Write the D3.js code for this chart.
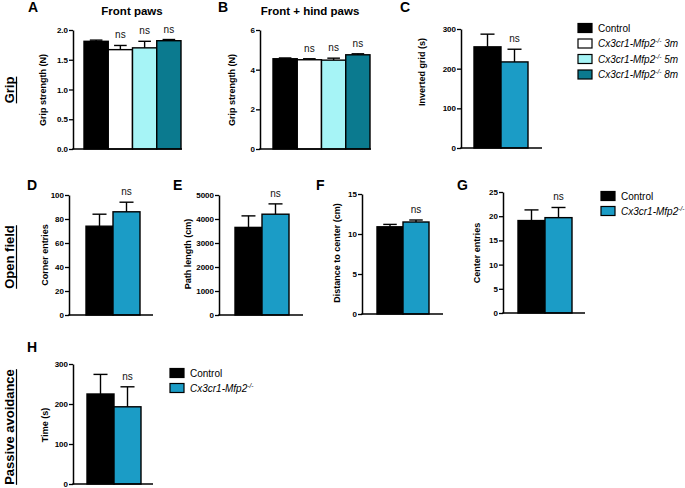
<!DOCTYPE html>
<html><head><meta charset="utf-8">
<script src="https://cdn.jsdelivr.net/npm/d3@7"></script>
<style>
html,body{margin:0;padding:0;background:#fff;}
svg{display:block;font-family:"Liberation Sans",Arial,sans-serif;}
</style></head>
<body><svg id="c" width="685" height="488"></svg>
<script>
// ---------- data ----------
const gripGroups = ["Control", "Cx3cr1-Mfp2 3m", "Cx3cr1-Mfp2 5m", "Cx3cr1-Mfp2 8m"];
const gripLegendSuffix = [null, " 3m", " 5m", " 8m"];
const twoGroups = ["Control", "Cx3cr1-Mfp2"];

const frontPawsMean = [1.81, 1.67, 1.70, 1.82];
const frontPawsErr  = [0.02, 0.07, 0.11, 0.02];
const frontPawsSig  = ["", "ns", "ns", "ns"];
const frontPawsTicks = [0, 0.5, 1.0, 1.5, 2.0];

const frontHindMean = [4.55, 4.50, 4.48, 4.75];
const frontHindErr  = [0.04, 0.05, 0.10, 0.05];
const frontHindSig  = ["", "ns", "ns", "ns"];
const frontHindTicks = [0, 2, 4, 6];

const invertedGridMean = [255, 217];
const invertedGridErr  = [32, 32];
const invertedGridTicks = [0, 100, 200, 300];

const cornerMean = [74, 86];
const cornerErr  = [10, 8];
const cornerTicks = [0, 20, 40, 60, 80, 100];

const pathMean = [3650, 4200];
const pathErr  = [480, 430];
const pathTicks = [0, 1000, 2000, 3000, 4000, 5000];

const distMean = [10.9, 11.5];
const distErr  = [0.3, 0.25];
const distTicks = [0, 5, 10, 15];

const centerMean = [19.1, 19.7];
const centerErr  = [2.2, 2.1];
const centerTicks = [0, 5, 10, 15, 20, 25];

const passiveMean = [225, 193];
const passiveErr  = [49, 50];
const passiveTicks = [0, 100, 200, 300];

const twoSig = ["", "ns"];

// ---------- styles ----------
const gripColors = ["#000000", "#ffffff", "#a6f4f6", "#0b7a8f"];
const twoColors = ["#000000", "#1b9cc6"];

const svg = d3.select("#c");

function panel(o) {
  const g = svg.append("g");
  const y = d3.scaleLinear().domain([0, o.max]).range([o.yBot, o.yTop]);
  const x = d3.scaleBand().domain(o.cats).range([o.x0, o.x1]).padding(0);

  // bars
  g.selectAll("rect.bar").data(o.mean).join("rect")
    .attr("x", (d, i) => x(o.cats[i]))
    .attr("y", d => y(d))
    .attr("width", x.bandwidth())
    .attr("height", d => y(0) - y(d))
    .attr("fill", (d, i) => o.colors[i])
    .attr("stroke", "#000").attr("stroke-width", 1.4);

  // error bars (upper only)
  o.mean.forEach((m, i) => {
    const cx = x(o.cats[i]) + x.bandwidth() / 2;
    const cw = x.bandwidth() * 0.26;
    g.append("line").attr("x1", cx).attr("x2", cx).attr("y1", y(m)).attr("y2", y(m + o.err[i]))
      .attr("stroke", "#000").attr("stroke-width", 1.4);
    g.append("line").attr("x1", cx - cw).attr("x2", cx + cw).attr("y1", y(m + o.err[i])).attr("y2", y(m + o.err[i]))
      .attr("stroke", "#000").attr("stroke-width", 1.4);
    if (o.sig[i]) {
      g.append("text").attr("x", cx).attr("y", y(m + o.err[i]) - 7)
        .attr("text-anchor", "middle").attr("font-size", 10).attr("fill", "#111").text(o.sig[i]);
    }
  });

  // y axis
  const ax = g.append("g").attr("transform", `translate(${o.axisX},0)`)
    .call(d3.axisLeft(y).tickValues(o.ticks).tickFormat(o.fmt || d3.format("d")).tickSize(4).tickSizeOuter(0));
  ax.select(".domain").attr("stroke", "#000").attr("stroke-width", 1.5);
  ax.selectAll(".tick line").attr("stroke", "#000").attr("stroke-width", 1.3);
  ax.selectAll(".tick text").attr("font-size", 8).attr("font-weight", "bold").attr("fill", "#000")
    .attr("font-family", "Liberation Sans, Arial, sans-serif").attr("x", -5);

  // x axis line
  g.append("line").attr("x1", o.axisX - 0.75).attr("x2", o.axisEnd).attr("y1", o.yBot).attr("y2", o.yBot)
    .attr("stroke", "#000").attr("stroke-width", 1.5);

  // y title
  g.append("text").attr("transform", `translate(${o.titleX},${o.titleY}) rotate(-90)`)
    .attr("text-anchor", "middle").attr("font-size", 9).attr("font-weight", "bold").text(o.yTitle);

  // panel letter
  g.append("text").attr("x", o.letterX).attr("y", o.letterY).attr("font-size", 14).attr("font-weight", "bold").text(o.letter);

  if (o.title) {
    g.append("text").attr("x", o.titleCx).attr("y", 15).attr("text-anchor", "middle")
      .attr("font-size", 11.5).attr("font-weight", "bold").text(o.title);
  }
}

panel({cats: gripGroups, mean: frontPawsMean, err: frontPawsErr, sig: frontPawsSig, colors: gripColors,
  max: 2, ticks: frontPawsTicks, fmt: d3.format(".1f"), yTop: 30, yBot: 149, axisX: 73, x0: 84, x1: 181, axisEnd: 182,
  yTitle: "Grip strength (N)", titleX: 46, titleY: 90, letter: "A", letterX: 28, letterY: 12, title: "Front paws", titleCx: 132});
panel({cats: gripGroups, mean: frontHindMean, err: frontHindErr, sig: frontHindSig, colors: gripColors,
  max: 6, ticks: frontHindTicks, yTop: 30, yBot: 149, axisX: 260, x0: 273, x1: 370, axisEnd: 371,
  yTitle: "Grip strength (N)", titleX: 235, titleY: 90, letter: "B", letterX: 218, letterY: 12, title: "Front + hind paws", titleCx: 310});
panel({cats: twoGroups, mean: invertedGridMean, err: invertedGridErr, sig: twoSig, colors: twoColors,
  max: 300, ticks: invertedGridTicks, yTop: 29, yBot: 148, axisX: 461, x0: 474, x1: 528, axisEnd: 542,
  yTitle: "Inverted grid (s)", titleX: 425, titleY: 72, letter: "C", letterX: 400, letterY: 12});
panel({cats: twoGroups, mean: cornerMean, err: cornerErr, sig: twoSig, colors: twoColors,
  max: 100, ticks: cornerTicks, yTop: 195, yBot: 315, axisX: 69, x0: 86, x1: 140, axisEnd: 153,
  yTitle: "Corner entries", titleX: 48, titleY: 255, letter: "D", letterX: 27, letterY: 190});
panel({cats: twoGroups, mean: pathMean, err: pathErr, sig: twoSig, colors: twoColors,
  max: 5000, ticks: pathTicks, yTop: 195, yBot: 315, axisX: 219, x0: 235, x1: 289, axisEnd: 303,
  yTitle: "Path length (cm)", titleX: 191, titleY: 254, letter: "E", letterX: 173, letterY: 190});
panel({cats: twoGroups, mean: distMean, err: distErr, sig: twoSig, colors: twoColors,
  max: 15, ticks: distTicks, yTop: 194, yBot: 314, axisX: 362, x0: 377, x1: 429, axisEnd: 443,
  yTitle: "Distance to center (cm)", titleX: 340, titleY: 253, letter: "F", letterX: 316, letterY: 190});
panel({cats: twoGroups, mean: centerMean, err: centerErr, sig: twoSig, colors: twoColors,
  max: 25, ticks: centerTicks, yTop: 192, yBot: 313, axisX: 503, x0: 518, x1: 572, axisEnd: 585,
  yTitle: "Center entries", titleX: 480, titleY: 253, letter: "G", letterX: 457, letterY: 190});
panel({cats: twoGroups, mean: passiveMean, err: passiveErr, sig: twoSig, colors: twoColors,
  max: 300, ticks: passiveTicks, yTop: 364, yBot: 484, axisX: 73, x0: 87, x1: 141, axisEnd: 153,
  yTitle: "Time (s)", titleX: 48, titleY: 425, letter: "H", letterX: 27, letterY: 352});

// legends
function legend(x, y0, step, colors, suffixes) {
  colors.forEach((c, i) => {
    const yy = y0 + i * step;
    svg.append("rect").attr("x", x).attr("y", yy - 4.5).attr("width", 14).attr("height", 9)
      .attr("fill", c).attr("stroke", "#000").attr("stroke-width", 1.2);
    const t = svg.append("text").attr("x", x + 20).attr("y", yy + 3.5).attr("font-size", 10);
    if (i === 0) { t.text("Control"); }
    else {
      t.attr("font-style", "italic");
      t.append("tspan").text("Cx3cr1-Mfp2");
      t.append("tspan").attr("font-size", 6.5).attr("dy", -4).text("-/-");
      if (suffixes[i]) t.append("tspan").attr("dy", 4).attr("font-size", 10).text(suffixes[i]);
    }
  });
}
legend(578, 28, 15.5, gripColors, gripLegendSuffix);
legend(601, 196, 15, twoColors, [null, null]);
legend(170, 373, 15, twoColors, [null, null]);

// section labels
function section(label, cx, cy) {
  const t = svg.append("text").attr("transform", `translate(${cx},${cy}) rotate(-90)`)
    .attr("text-anchor", "middle").attr("font-size", 13).attr("font-weight", "bold").text(label);
  const len = t.node().getComputedTextLength();
  svg.append("line").attr("x1", cx + 2.5).attr("x2", cx + 2.5).attr("y1", cy - len / 2).attr("y2", cy + len / 2)
    .attr("stroke", "#000").attr("stroke-width", 1.2);
}
section("Grip", 14, 90);
section("Open field", 14, 257);
section("Passive avoidance", 14, 427);
</script></body></html>
